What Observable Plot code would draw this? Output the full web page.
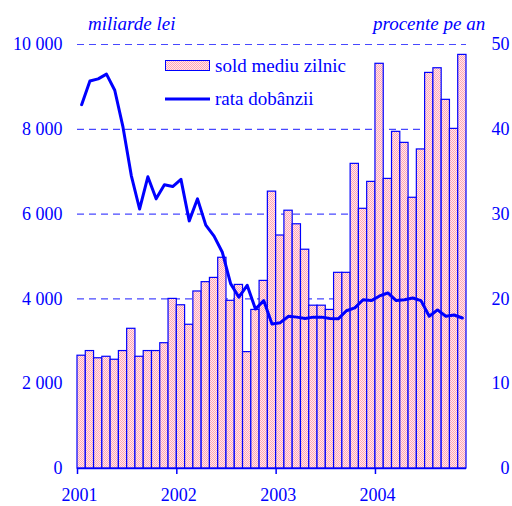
<!DOCTYPE html>
<html><head><meta charset="utf-8">
<script src="https://cdn.jsdelivr.net/npm/d3@7"></script>
<script src="https://cdn.jsdelivr.net/npm/@observablehq/plot@0.6"></script>
<style>
body{margin:0;background:#fff;}
#wrap{position:relative;width:512px;height:506px;font-family:"Liberation Serif",serif;color:#0000ff;}
.unit{position:absolute;font-style:italic;font-size:19px;top:13px;line-height:22px;white-space:nowrap;}
#legend{position:absolute;left:0;top:0;}
</style></head>
<body>
<div id="wrap">
<svg width="0" height="0" style="position:absolute">
 <defs>
  <pattern id="dots" width="2" height="2" patternUnits="userSpaceOnUse">
   <rect width="2" height="2" fill="#ffeaee"/>
   <rect x="0" y="0" width="1" height="1" fill="#ffa4b4"/>
   <rect x="1" y="1" width="1" height="1" fill="#ffa4b4"/>
  </pattern>
 </defs>
</svg>
<div id="chart"></div>
<div class="unit" style="left:88px">miliarde lei</div>
<div class="unit" style="left:373px">procente pe an</div>
<svg id="legend" width="512" height="120">
 <rect x="165.5" y="60.5" width="44" height="10" fill="url(#dots)" stroke="#0000ff" stroke-width="1"/>
 <text x="215" y="72" font-family="Liberation Serif" font-size="19" fill="#0000ff">sold mediu zilnic</text>
 <line x1="165" x2="210" y1="99" y2="99" stroke="#0000ff" stroke-width="3"/>
 <text x="215" y="105" font-family="Liberation Serif" font-size="19" fill="#0000ff">rata dobânzii</text>
</svg>
</div>
<script>
// monthly average balance (miliarde lei), Jan 2001 – Nov 2004
const balance = [2660,2770,2600,2635,2565,2770,3295,2635,2770,2770,2955,4000,
  3850,3390,4175,4395,4495,4970,3955,4330,2745,3740,4425,6530,
  5495,6080,5760,5160,3840,3840,3740,4615,4615,7185,6125,6760,
  9545,6830,7940,7680,6385,7525,9330,9440,8695,8010,9755];
// interest rate (procente pe an)
const rate = [42.9,45.7,45.95,46.5,44.6,40.25,34.55,30.6,34.4,31.8,33.45,33.25,
  34.1,29.2,31.8,28.7,27.4,25.5,21.8,20.2,21.6,18.8,19.8,17.05,
  17.2,17.95,17.85,17.7,17.85,17.85,17.7,17.65,18.6,18.95,19.9,19.8,
  20.35,20.7,19.8,19.9,20.1,19.8,17.95,18.7,17.95,18.1,17.75];
const years = ["2001","2002","2003","2004"];
const leftTicks = [0,2000,4000,6000,8000,10000];
const rightTicks = [0,10,20,30,40,50];

const bars = balance.map((v,i)=>({i, v}));
const pts = rate.map((r,i)=>({i, r}));
const blue = "#0000ff";
const ratio = 10000/50;
const yearTicks = years.map((y,k)=>k*12);

const plot = Plot.plot({
  width: 512, height: 506,
  marginLeft: 77, marginRight: 46, marginTop: 44, marginBottom: 38,
  style: {fontFamily: "Liberation Serif", fontSize: "18px", color: blue, background: "transparent"},
  x: {type: "linear", domain: [0, 47], axis: null},
  y: {domain: [0, 10000], axis: null},
  marks: [
    Plot.ruleY(leftTicks.filter(d=>d>0), {stroke: "#4848ff", strokeWidth: 1.2, strokeDasharray: "7,5"}),
    Plot.rectY(bars, {x1: "i", x2: d=>d.i+1, y: "v", fill: "url(#dots)", stroke: blue, strokeWidth: 1.2, inset: 0}),
    Plot.ruleY([0], {stroke: blue, strokeWidth: 1.5}),
    Plot.axisY({ticks: leftTicks, tickSize: 0, tickPadding: 15, tickFormat: d=>d3.format(",")(d).replace(",", " "), fill: blue, label: null}),
    Plot.axisY({ticks: rightTicks.map(d=>d*ratio), anchor: "right", tickSize: 0, tickPadding: 43, textAnchor: "end", tickFormat: d=>d/ratio, fill: blue, label: null}),
    Plot.axisX({ticks: yearTicks, tickSize: 6, stroke: blue, strokeWidth: 1.5, tickFormat: () => "", label: null}),
    Plot.axisX({ticks: yearTicks, tickSize: 0, tickPadding: 20, dx: 2, tickFormat: d=>years[d/12], fill: blue, label: null}),
    Plot.line(pts, {x: d=>d.i+0.5, y: d=>d.r*ratio, stroke: blue, strokeWidth: 3, strokeLinejoin: "round"})
  ]
});
document.getElementById("chart").appendChild(plot);
</script>
</body></html>
